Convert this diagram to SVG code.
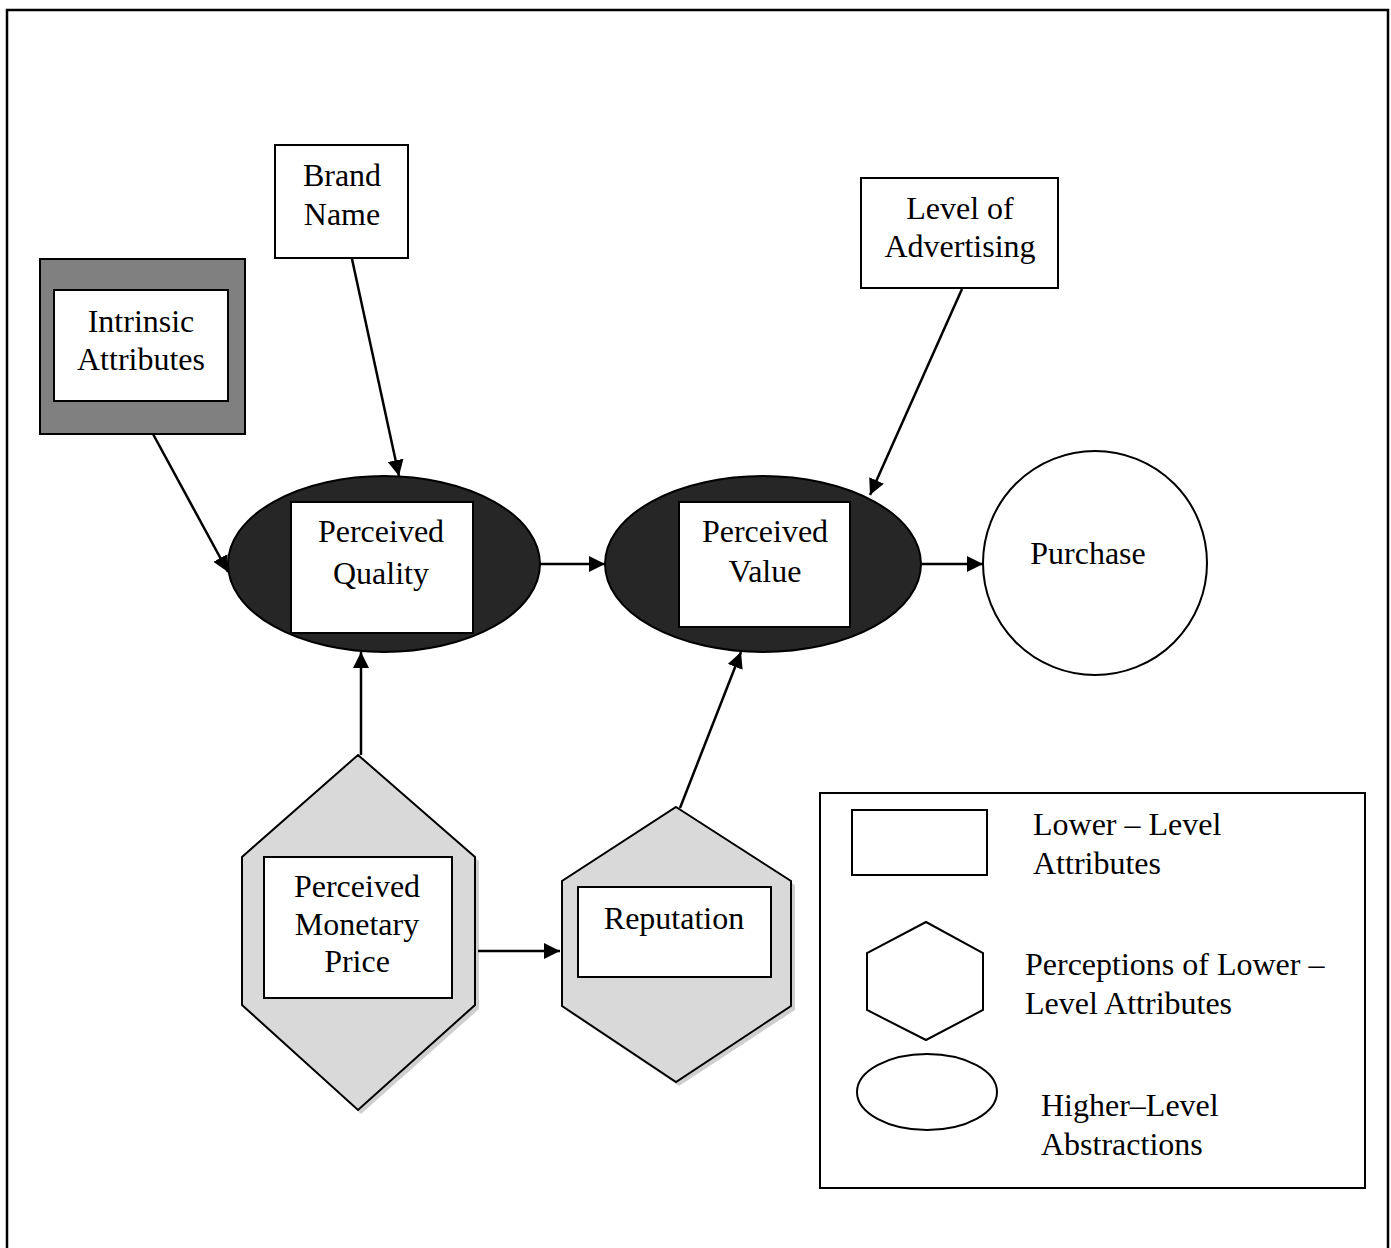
<svg xmlns="http://www.w3.org/2000/svg" width="1391" height="1248" viewBox="0 0 1391 1248">
<defs>
<marker id="ah" viewBox="0 0 10 10" refX="10" refY="5" markerWidth="16" markerHeight="16" markerUnits="userSpaceOnUse" orient="auto">
<path d="M0,0 L10,5 L0,10 z" fill="#000"/>
</marker>
</defs>
<style>
text{font-family:"Liberation Serif","Times New Roman",serif;font-size:32px;fill:#000;text-anchor:middle}
.lt{text-anchor:start}
.box{fill:#fff;stroke:#000;stroke-width:2}
.hex{fill:#d9d9d9;stroke:#000;stroke-width:2}
.ell{fill:#262626;stroke:#000;stroke-width:2}
.leg{fill:#fff;stroke:#000;stroke-width:2}
.con{stroke:#000;stroke-width:2.5;fill:none;marker-end:url(#ah)}
</style>
<rect x="7" y="10" width="1381" height="1260" fill="#fff" stroke="#000" stroke-width="2.5"/>

<g id="intrinsic">
<rect x="40" y="259" width="205" height="175" fill="#808080" stroke="#000" stroke-width="2"/>
<rect class="box" x="54" y="290" width="174" height="111"/>
<text x="141" y="332">Intrinsic</text>
<text x="141" y="370">Attributes</text>
</g>

<g id="brand">
<rect class="box" x="275" y="145" width="133" height="113"/>
<text x="342" y="186">Brand</text>
<text x="342" y="225">Name</text>
</g>

<g id="advertising">
<rect class="box" x="861" y="178" width="197" height="110"/>
<text x="960" y="219">Level of</text>
<text x="960" y="257">Advertising</text>
</g>

<g id="quality">
<ellipse class="ell" cx="384" cy="564" rx="156" ry="88"/>
<rect class="box" x="291" y="502" width="182" height="131"/>
<text x="381" y="542">Perceived</text>
<text x="381" y="584">Quality</text>
</g>

<g id="value">
<ellipse class="ell" cx="763" cy="564" rx="158" ry="88"/>
<rect class="box" x="679" y="502" width="171" height="125"/>
<text x="765" y="542">Perceived</text>
<text x="765" y="582">Value</text>
</g>

<g id="purchase">
<circle cx="1095" cy="563" r="112" fill="#fff" stroke="#000" stroke-width="2"/>
<text x="1088" y="564">Purchase</text>
</g>

<g id="price">
<polygon points="361,759 479,861 479,1009 361,1114 246,1009 246,861" fill="#cfcfcf"/>
<polygon class="hex" points="358,755 475,857 475,1005 358,1110 242,1005 242,857"/>
<rect class="box" x="264" y="857" width="188" height="141"/>
<text x="357" y="897">Perceived</text>
<text x="357" y="935">Monetary</text>
<text x="357" y="972">Price</text>
</g>

<g id="reputation">
<polygon points="679,811 795,885 795,1010 679,1086 566,1010 566,885" fill="#cfcfcf"/>
<polygon class="hex" points="676,807 791,881 791,1006 676,1082 562,1006 562,881"/>
<rect class="box" x="578" y="887" width="193" height="90"/>
<text x="674" y="929">Reputation</text>
</g>

<g id="connectors">
<line class="con" x1="153" y1="434" x2="228" y2="572"/>
<line class="con" x1="352" y1="259" x2="399" y2="476"/>
<line class="con" x1="540" y1="564" x2="605" y2="564"/>
<line class="con" x1="922" y1="564" x2="983" y2="564"/>
<line class="con" x1="962" y1="289" x2="870" y2="495"/>
<line class="con" x1="361" y1="755" x2="361" y2="652"/>
<line class="con" x1="680" y1="808" x2="741" y2="652"/>
<line class="con" x1="478" y1="951" x2="560" y2="951"/>
</g>

<g id="legend">
<rect x="820" y="793" width="545" height="395" fill="#fff" stroke="#000" stroke-width="2"/>
<rect class="leg" x="852" y="810" width="135" height="65"/>
<polygon class="leg" points="926,922 983,953 983,1010 926,1040 867,1010 867,953"/>
<ellipse class="leg" cx="927" cy="1092" rx="70" ry="38"/>
<text class="lt" x="1033" y="835">Lower – Level</text>
<text class="lt" x="1033" y="874">Attributes</text>
<text class="lt" x="1025" y="975">Perceptions of Lower –</text>
<text class="lt" x="1025" y="1014">Level Attributes</text>
<text class="lt" x="1041" y="1116">Higher–Level</text>
<text class="lt" x="1041" y="1155">Abstractions</text>
</g>
</svg>
